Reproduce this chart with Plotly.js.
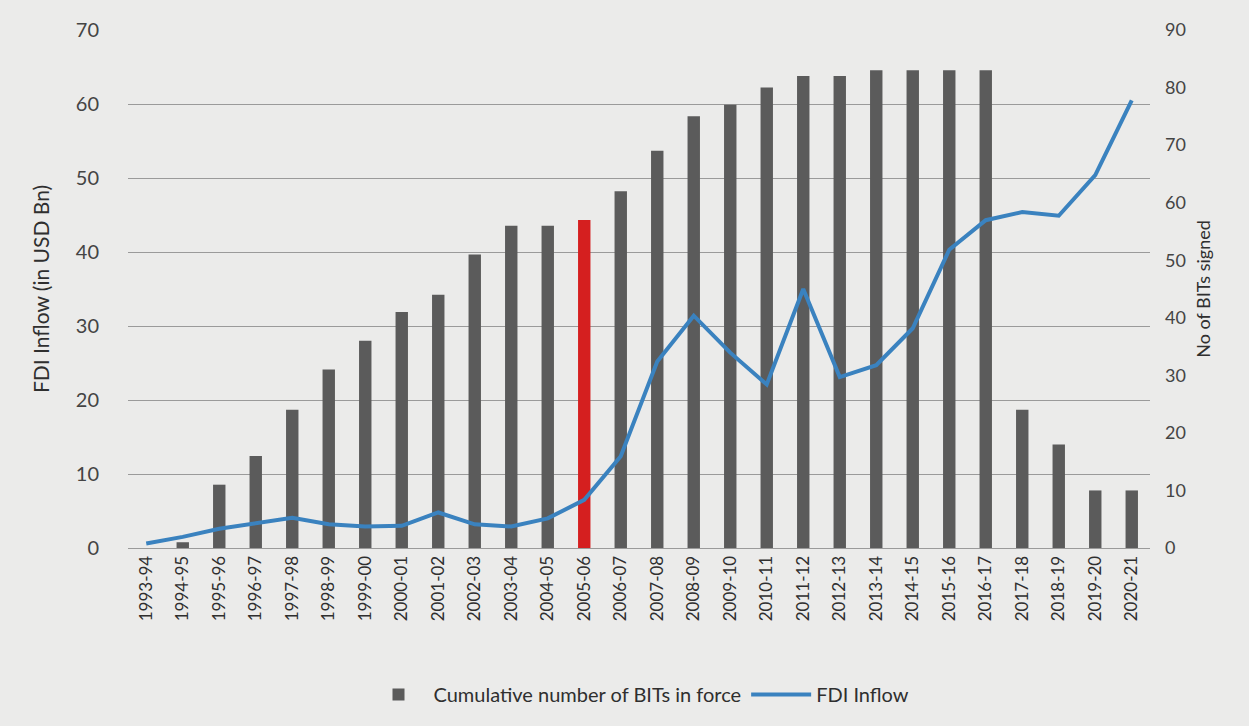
<!DOCTYPE html>
<html>
<head>
<meta charset="utf-8">
<script src="https://cdn.plot.ly/plotly-3.0.1.min.js"></script>
<style>
  html, body { margin: 0; padding: 0; background: #ebebea; }
  #chart { width: 1249px; height: 726px; }
</style>
</head>
<body>
<div id="chart"></div>
<script>
// ---- Data ----
const years = ["1993-94","1994-95","1995-96","1996-97","1997-98","1998-99","1999-00",
  "2000-01","2001-02","2002-03","2003-04","2004-05","2005-06","2006-07","2007-08",
  "2008-09","2009-10","2010-11","2011-12","2012-13","2013-14","2014-15","2015-16",
  "2016-17","2017-18","2018-19","2019-20","2020-21"];

// Cumulative number of BITs in force (right axis, No of BITs signed)
const bitsInForce = [0, 1, 11, 16, 24, 31, 36,
  41, 44, 51, 56, 56, 57, 62, 69,
  75, 77, 80, 82, 82, 83, 83, 83,
  83, 24, 18, 10, 10];

// FDI Inflow in USD Bn (left axis)
const fdiInflow = [0.6, 1.5, 2.6, 3.4, 4.1, 3.2, 2.9,
  3.0, 4.8, 3.2, 2.9, 4.0, 6.5, 12.4, 25.2,
  31.4, 26.4, 22.1, 35.0, 23.1, 24.7, 29.7, 40.3,
  44.3, 45.4, 44.9, 50.4, 60.5];

const highlightYear = "2005-06";

// ---- Styles ----
const barGray = "#5b5b5b";
const barRed = "#d51f1f";
const lineBlue = "#3a82bf";
const textColor = "#2f2f2f";
const fontFamily = "Lato, 'Open Sans', 'DejaVu Sans', sans-serif";

const barColors = years.map(y => y === highlightYear ? barRed : barGray);

const traces = [
  {
    type: "bar",
    name: "Cumulative number of BITs in force",
    x: years,
    y: bitsInForce,
    yaxis: "y",
    marker: { color: barColors },
    showlegend: false
  },
  {
    // legend entry with a gray swatch
    type: "bar",
    name: "Cumulative number of BITs in force",
    x: [years[0]],
    y: [null],
    yaxis: "y",
    marker: { color: barGray },
    showlegend: true,
    hoverinfo: "skip"
  },
  {
    type: "scatter",
    mode: "lines",
    name: "FDI Inflow",
    x: years,
    y: fdiInflow,
    yaxis: "y2",
    line: { color: lineBlue, width: 4 }
  }
];

const layout = {
  width: 1249,
  height: 726,
  paper_bgcolor: "#ebebea",
  plot_bgcolor: "#ebebea",
  margin: { l: 128, r: 99, t: 30, b: 178 },
  font: { family: fontFamily, color: textColor, size: 17 },
  barmode: "overlay",
  bargap: 0.66,
  showlegend: true,
  legend: {
    orientation: "h",
    x: 0.5, xanchor: "center",
    y: -0.245, yanchor: "top",
    font: { size: 20, color: textColor },
    traceorder: "normal",
    itemwidth: 60,
    bgcolor: "rgba(0,0,0,0)"
  },
  xaxis: {
    type: "category",
    tickangle: -90,
    tickfont: { size: 17, color: textColor },
    showgrid: false,
    showline: true,
    linecolor: "#9a9a9a",
    linewidth: 1,
    ticks: "",
    automargin: false
  },
  yaxis: {
    // BITs axis (right side)
    side: "right",
    range: [0, 90],
    dtick: 10,
    showgrid: false,
    zeroline: false,
    showline: false,
    ticks: "",
    ticklabelstandoff: 14,
    tickfont: { size: 18, color: "#444" },
    title: { text: "No of BITs signed", font: { size: 18, color: textColor }, standoff: 12 }
  },
  yaxis2: {
    // FDI axis (left side)
    side: "left",
    overlaying: "y",
    range: [0, 70],
    dtick: 10,
    showgrid: true,
    gridcolor: "#9a9a9a",
    gridwidth: 1,
    zeroline: false,
    showline: false,
    ticks: "",
    ticklabelstandoff: 28,
    tickfont: { size: 20, color: "#444" },
    title: { text: "FDI Inflow (in USD Bn)", font: { size: 21, color: textColor }, standoff: 20 }
  }
};

Plotly.newPlot("chart", traces, layout, { displayModeBar: false, staticPlot: true });
</script>
</body>
</html>
